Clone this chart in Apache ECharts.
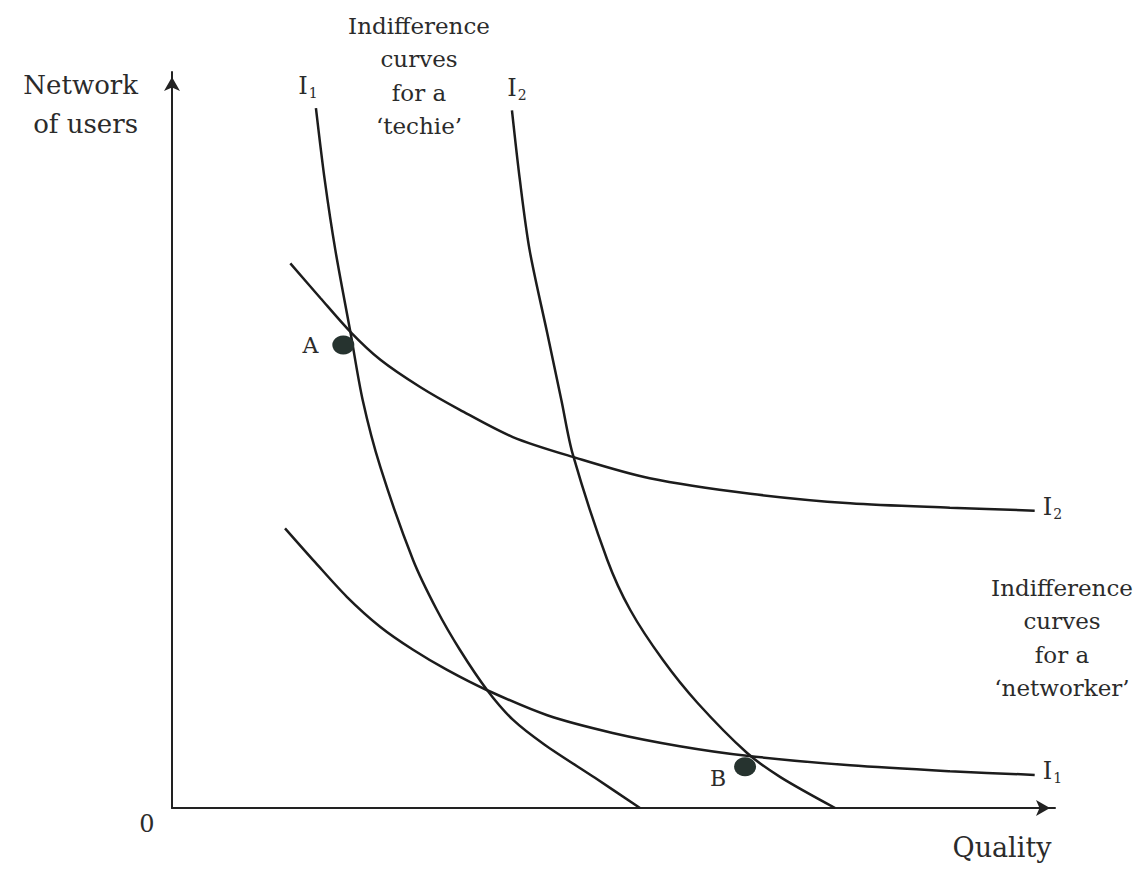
<!DOCTYPE html>
<html>
<head>
<meta charset="utf-8">
<style>
  html, body { margin: 0; padding: 0; background: #fff; }
  #chart { width: 1141px; height: 872px; }
</style>
<script src="https://cdn.jsdelivr.net/npm/echarts@6/dist/echarts.min.js"></script>
</head>
<body>
<div id="chart"></div>
<script>
// Values, in axis units (0-100 on both axes)
const techieI1 = [[16.3, 95.1], [17.3, 85.3], [18.5, 75.8], [20.2, 64.7], [21.6, 55.4], [23.6, 46.3], [27.3, 33.7],
  [30.0, 26.9], [32.6, 21.5], [35.7, 16.0], [38.6, 12.0], [42.2, 8.6], [47.9, 4.1], [53.0, 0]];
const techieI2 = [[38.5, 94.8], [39.4, 85.3], [40.5, 75.8], [42.5, 64.5], [44.1, 55.4], [45.4, 48.0], [49.3, 33.7],
  [51.9, 26.9], [55.6, 20.1], [59.5, 14.3], [65.1, 7.5], [68.9, 4.2], [75.1, 0]];
const networkerI2 = [[13.4, 74.0], [16.8, 69.3], [20.2, 64.7], [23.6, 60.9], [28.1, 57.2], [32.6, 54.1],
  [38.6, 50.4], [45.4, 47.7], [54.1, 44.8], [65.5, 42.7], [76.8, 41.4], [88.1, 40.8], [97.7, 40.4]];
const networkerI1 = [[12.8, 38.0], [16.2, 33.4], [19.8, 28.7], [23.6, 24.6], [27.3, 21.5], [31.1, 18.8],
  [35.7, 16.0], [42.5, 12.6], [49.9, 10.2], [57.5, 8.4], [65.1, 7.1], [76.8, 5.8], [88.1, 5.0], [97.7, 4.5]];
const points = [['A', 19.4, 62.9], ['B', 64.9, 5.6]];

const serif = '"DejaVu Serif", "Liberation Serif", serif';
const textColor = '#2b2b2b';
const lineColor = '#1c1c1c';

const chart = echarts.init(document.getElementById('chart'), null, { renderer: 'svg' });

const subRich = {
  i: { fontFamily: serif, fontSize: 24, color: textColor },
  s: { fontFamily: serif, fontSize: 14, color: textColor, padding: [14, 0, 0, 1] }
};

function curve(name, data, sub, startOffset) {
  const fmt = '{i|I}{s|' + sub + '}';
  const s = {
    name: name,
    type: 'line',
    data: data,
    smooth: 0.3,
    symbol: 'none',
    lineStyle: { color: lineColor, width: 2.5 },
    silent: true
  };
  if (startOffset) {
    // label sits above the top end of the curve
    s.symbol = 'circle';
    s.symbolSize = 0;
    s.showSymbol = true;
    s.data = data.map((d, i) => i === 0 ? {
      value: d,
      label: { show: true, position: 'top', distance: 8, offset: startOffset, formatter: fmt, rich: subRich }
    } : d);
  } else {
    s.endLabel = { show: true, distance: 8, offset: [0, -4], formatter: fmt, rich: subRich };
  }
  return s;
}

const axisCommon = {
  type: 'value', min: 0, max: 100,
  axisLine: {
    show: true,
    lineStyle: { color: '#222', width: 2 },
    symbol: ['none', 'arrow'],
    symbolSize: [12, 14],
    symbolOffset: [0, -5]
  },
  axisTick: { show: false },
  axisLabel: { show: false },
  splitLine: { show: false }
};

const option = {
  animation: false,
  backgroundColor: '#fff',
  grid: { left: 172, right: 86, top: 72, bottom: 64 },
  xAxis: axisCommon,
  yAxis: axisCommon,
  graphic: [
    { type: 'text', x: 138, y: 65, style: { text: 'Network\nof users', font: '26px ' + serif, fill: textColor, textAlign: 'right', lineHeight: 39 } },
    { type: 'text', x: 419, y: 9, style: { text: 'Indifference\ncurves\nfor a\n\u2018techie\u2019', font: '23px ' + serif, fill: textColor, textAlign: 'center', lineHeight: 33.5 } },
    { type: 'text', x: 1062, y: 571, style: { text: 'Indifference\ncurves\nfor a\n\u2018networker\u2019', font: '23px ' + serif, fill: textColor, textAlign: 'center', lineHeight: 33.5 } },
    { type: 'text', x: 1002, y: 834, style: { text: 'Quality', font: '27px ' + serif, fill: textColor, textAlign: 'center' } },
    { type: 'text', x: 147, y: 812, style: { text: '0', font: '24px ' + serif, fill: textColor, textAlign: 'center' } }
  ],
  series: [
    curve('Techie I1', techieI1, '1', [-8, 0]),
    curve('Techie I2', techieI2, '2', [5, 0]),
    curve('Networker I2', networkerI2, '2', null),
    curve('Networker I1', networkerI1, '1', null),
    {
      type: 'scatter',
      data: points.map(p => ({ name: p[0], value: [p[1], p[2]] })),
      symbol: 'circle',
      symbolSize: [22, 19],
      itemStyle: { color: '#26332f', opacity: 1 },
      label: {
        show: true,
        formatter: '{b}',
        position: 'left',
        distance: 14,
        fontFamily: serif,
        fontSize: 22,
        color: textColor
      },
      silent: true,
      z: 5
    }
  ]
};

// B's letter sits a little lower than the dot
option.series[4].data[1].label = { offset: [0, 12], distance: 8 };

chart.setOption(option);
</script>
</body>
</html>
